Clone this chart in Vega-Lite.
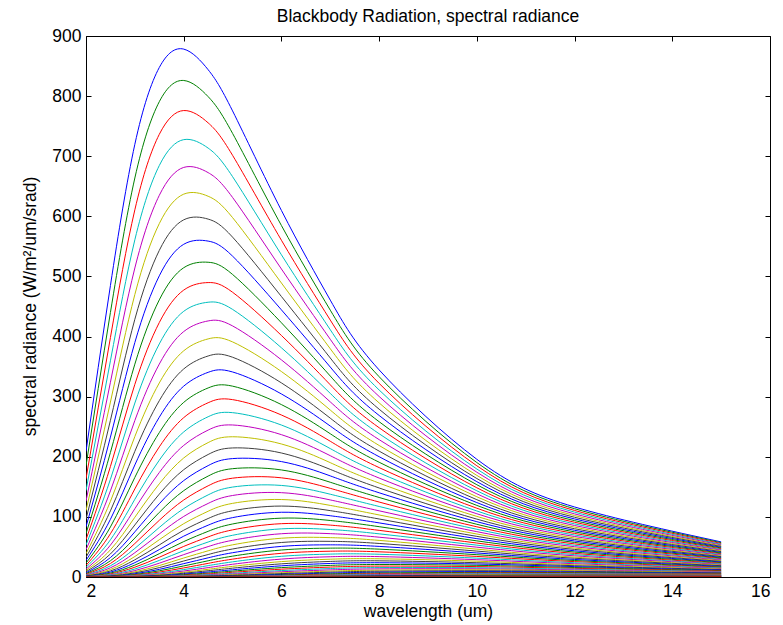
{
"$schema": "https://vega.github.io/schema/vega-lite/v6.json",
"width": 684, "height": 541,
"autosize": {"type": "none"},
"padding": {"left": 86, "top": 36, "right": 13, "bottom": 48},
"background": "white",
"config": {"view": {"stroke": "black", "strokeWidth": 1}, "font": "Liberation Sans",
 "axis": {"grid": false, "labelFont": "Liberation Sans", "labelFontSize": 17.5, "labelColor": "black", "titleFont": "Liberation Sans", "titleFontSize": 17.5, "titleFontWeight": "normal", "titleColor": "black", "tickColor": "black", "tickWidth": 1, "domain": false}},
"title": {"text": "Blackbody Radiation, spectral radiance", "font": "Liberation Sans", "fontSize": 17.5, "fontWeight": "normal", "color": "black", "anchor": "middle", "baseline": "alphabetic", "offset": 5, "dy": 17},
"data": {"values": [
{"c":0,"w":2,"r":209},{"c":0,"w":2.5,"r":484.9},{"c":0,"w":3,"r":719.9},{"c":0,"w":3.5,"r":847.6},{"c":0,"w":4,"r":878.2},{"c":0,"w":4.5,"r":843.9},{"c":0,"w":5,"r":775.4},{"c":0,"w":6,"r":609.8},{"c":0,"w":7,"r":460.6},{"c":0,"w":8,"r":344.5},{"c":0,"w":10,"r":195.8},{"c":0,"w":12,"r":116.5},{"c":0,"w":15,"r":58.4},
{"c":1,"w":2,"r":185.1},{"c":1,"w":2.5,"r":440.1},{"c":1,"w":3,"r":663.8},{"c":1,"w":3.5,"r":790.7},{"c":1,"w":4,"r":826},{"c":1,"w":4.5,"r":799.1},{"c":1,"w":5,"r":738},{"c":1,"w":6,"r":584.7},{"c":1,"w":7,"r":443.9},{"c":1,"w":8,"r":333.2},{"c":1,"w":10,"r":190.4},{"c":1,"w":12,"r":113.6},{"c":1,"w":15,"r":57.1},
{"c":2,"w":2,"r":163.4},{"c":2,"w":2.5,"r":398.4},{"c":2,"w":3,"r":610.9},{"c":2,"w":3.5,"r":736.4},{"c":2,"w":4,"r":776},{"c":2,"w":4.5,"r":755.5},{"c":2,"w":5,"r":701.5},{"c":2,"w":6,"r":560.2},{"c":2,"w":7,"r":427.4},{"c":2,"w":8,"r":322.1},{"c":2,"w":10,"r":185},{"c":2,"w":12,"r":110.7},{"c":2,"w":15,"r":55.8},
{"c":3,"w":2,"r":143.9},{"c":3,"w":2.5,"r":359.7},{"c":3,"w":3,"r":561},{"c":3,"w":3.5,"r":684.5},{"c":3,"w":4,"r":727.6},{"c":3,"w":4.5,"r":713.5},{"c":3,"w":5,"r":666},{"c":3,"w":6,"r":536},{"c":3,"w":7,"r":411.3},{"c":3,"w":8,"r":311.1},{"c":3,"w":10,"r":179.6},{"c":3,"w":12,"r":107.9},{"c":3,"w":15,"r":54.5},
{"c":4,"w":2,"r":126.2},{"c":4,"w":2.5,"r":324},{"c":4,"w":3,"r":514.1},{"c":4,"w":3.5,"r":634.9},{"c":4,"w":4,"r":681.4},{"c":4,"w":4.5,"r":672.7},{"c":4,"w":5,"r":631.4},{"c":4,"w":6,"r":512.4},{"c":4,"w":7,"r":395.4},{"c":4,"w":8,"r":300.3},{"c":4,"w":10,"r":174.3},{"c":4,"w":12,"r":105},{"c":4,"w":15,"r":53.3},
{"c":5,"w":2,"r":110.4},{"c":5,"w":2.5,"r":291},{"c":5,"w":3,"r":470},{"c":5,"w":3.5,"r":587.9},{"c":5,"w":4,"r":636.9},{"c":5,"w":4.5,"r":633.4},{"c":5,"w":5,"r":597.9},{"c":5,"w":6,"r":489.1},{"c":5,"w":7,"r":379.7},{"c":5,"w":8,"r":289.6},{"c":5,"w":10,"r":169},{"c":5,"w":12,"r":102.2},{"c":5,"w":15,"r":52},
{"c":6,"w":2,"r":96.2},{"c":6,"w":2.5,"r":260.6},{"c":6,"w":3,"r":428.8},{"c":6,"w":3.5,"r":543.3},{"c":6,"w":4,"r":594.2},{"c":6,"w":4.5,"r":595.4},{"c":6,"w":5,"r":565.4},{"c":6,"w":6,"r":466.6},{"c":6,"w":7,"r":364.3},{"c":6,"w":8,"r":279.1},{"c":6,"w":10,"r":163.8},{"c":6,"w":12,"r":99.4},{"c":6,"w":15,"r":50.8},
{"c":7,"w":2,"r":83.5},{"c":7,"w":2.5,"r":232.7},{"c":7,"w":3,"r":390.1},{"c":7,"w":3.5,"r":501},{"c":7,"w":4,"r":553.5},{"c":7,"w":4.5,"r":558.8},{"c":7,"w":5,"r":533.8},{"c":7,"w":6,"r":444.4},{"c":7,"w":7,"r":349.2},{"c":7,"w":8,"r":268.7},{"c":7,"w":10,"r":158.6},{"c":7,"w":12,"r":96.6},{"c":7,"w":15,"r":49.5},
{"c":8,"w":2,"r":72.2},{"c":8,"w":2.5,"r":207.2},{"c":8,"w":3,"r":354.1},{"c":8,"w":3.5,"r":461},{"c":8,"w":4,"r":514.5},{"c":8,"w":4.5,"r":523.6},{"c":8,"w":5,"r":503.3},{"c":8,"w":6,"r":422.9},{"c":8,"w":7,"r":334.3},{"c":8,"w":8,"r":258.3},{"c":8,"w":10,"r":153.5},{"c":8,"w":12,"r":93.8},{"c":8,"w":15,"r":48.3},
{"c":9,"w":2,"r":62.2},{"c":9,"w":2.5,"r":183.9},{"c":9,"w":3,"r":320.5},{"c":9,"w":3.5,"r":423.3},{"c":9,"w":4,"r":477.3},{"c":9,"w":4.5,"r":489.8},{"c":9,"w":5,"r":473.7},{"c":9,"w":6,"r":401.8},{"c":9,"w":7,"r":319.7},{"c":9,"w":8,"r":248.3},{"c":9,"w":10,"r":148.4},{"c":9,"w":12,"r":91.1},{"c":9,"w":15,"r":47},
{"c":10,"w":2,"r":53.3},{"c":10,"w":2.5,"r":162.6},{"c":10,"w":3,"r":289.4},{"c":10,"w":3.5,"r":387.7},{"c":10,"w":4,"r":442},{"c":10,"w":4.5,"r":457.1},{"c":10,"w":5,"r":445.2},{"c":10,"w":6,"r":381.3},{"c":10,"w":7,"r":305.4},{"c":10,"w":8,"r":238.3},{"c":10,"w":10,"r":143.4},{"c":10,"w":12,"r":88.4},{"c":10,"w":15,"r":45.8},
{"c":11,"w":2,"r":45.5},{"c":11,"w":2.5,"r":143.3},{"c":11,"w":3,"r":260.4},{"c":11,"w":3.5,"r":354.2},{"c":11,"w":4,"r":408.3},{"c":11,"w":4.5,"r":426},{"c":11,"w":5,"r":417.7},{"c":11,"w":6,"r":361.2},{"c":11,"w":7,"r":291.3},{"c":11,"w":8,"r":228.5},{"c":11,"w":10,"r":138.4},{"c":11,"w":12,"r":85.7},{"c":11,"w":15,"r":44.6},
{"c":12,"w":2,"r":38.7},{"c":12,"w":2.5,"r":125.9},{"c":12,"w":3,"r":233.7},{"c":12,"w":3.5,"r":322.8},{"c":12,"w":4,"r":376.3},{"c":12,"w":4.5,"r":396.1},{"c":12,"w":5,"r":391.1},{"c":12,"w":6,"r":341.8},{"c":12,"w":7,"r":277.7},{"c":12,"w":8,"r":218.8},{"c":12,"w":10,"r":133.5},{"c":12,"w":12,"r":83},{"c":12,"w":15,"r":43.4},
{"c":13,"w":2,"r":32.8},{"c":13,"w":2.5,"r":110.1},{"c":13,"w":3,"r":209.1},{"c":13,"w":3.5,"r":293.3},{"c":13,"w":4,"r":346.1},{"c":13,"w":4.5,"r":367.7},{"c":13,"w":5,"r":365.6},{"c":13,"w":6,"r":322.9},{"c":13,"w":7,"r":264.2},{"c":13,"w":8,"r":209.4},{"c":13,"w":10,"r":128.6},{"c":13,"w":12,"r":80.3},{"c":13,"w":15,"r":42.2},
{"c":14,"w":2,"r":27.6},{"c":14,"w":2.5,"r":96},{"c":14,"w":3,"r":186.4},{"c":14,"w":3.5,"r":265.8},{"c":14,"w":4,"r":317.5},{"c":14,"w":4.5,"r":340.5},{"c":14,"w":5,"r":341.1},{"c":14,"w":6,"r":304.5},{"c":14,"w":7,"r":251.1},{"c":14,"w":8,"r":200.1},{"c":14,"w":10,"r":123.8},{"c":14,"w":12,"r":77.7},{"c":14,"w":15,"r":40.9},
{"c":15,"w":2,"r":23.1},{"c":15,"w":2.5,"r":83.3},{"c":15,"w":3,"r":165.7},{"c":15,"w":3.5,"r":240.2},{"c":15,"w":4,"r":290.5},{"c":15,"w":4.5,"r":314.5},{"c":15,"w":5,"r":317.5},{"c":15,"w":6,"r":286.8},{"c":15,"w":7,"r":238.3},{"c":15,"w":8,"r":190.9},{"c":15,"w":10,"r":119.1},{"c":15,"w":12,"r":75.1},{"c":15,"w":15,"r":39.8},
{"c":16,"w":2,"r":19.3},{"c":16,"w":2.5,"r":72},{"c":16,"w":3,"r":146.6},{"c":16,"w":3.5,"r":216.4},{"c":16,"w":4,"r":265.1},{"c":16,"w":4.5,"r":289.9},{"c":16,"w":5,"r":295.1},{"c":16,"w":6,"r":269.5},{"c":16,"w":7,"r":225.8},{"c":16,"w":8,"r":182},{"c":16,"w":10,"r":114.4},{"c":16,"w":12,"r":72.5},{"c":16,"w":15,"r":38.6},
{"c":17,"w":2,"r":16},{"c":17,"w":2.5,"r":61.9},{"c":17,"w":3,"r":129.3},{"c":17,"w":3.5,"r":194.3},{"c":17,"w":4,"r":241.3},{"c":17,"w":4.5,"r":266.6},{"c":17,"w":5,"r":273.4},{"c":17,"w":6,"r":252.8},{"c":17,"w":7,"r":213.6},{"c":17,"w":8,"r":173.3},{"c":17,"w":10,"r":109.8},{"c":17,"w":12,"r":69.9},{"c":17,"w":15,"r":37.4},
{"c":18,"w":2,"r":13.1},{"c":18,"w":2.5,"r":53},{"c":18,"w":3,"r":113.6},{"c":18,"w":3.5,"r":173.8},{"c":18,"w":4,"r":218.9},{"c":18,"w":4.5,"r":244.4},{"c":18,"w":5,"r":252.9},{"c":18,"w":6,"r":236.8},{"c":18,"w":7,"r":201.8},{"c":18,"w":8,"r":164.6},{"c":18,"w":10,"r":105.2},{"c":18,"w":12,"r":67.4},{"c":18,"w":15,"r":36.2},
{"c":19,"w":2,"r":10.8},{"c":19,"w":2.5,"r":45.2},{"c":19,"w":3,"r":99.4},{"c":19,"w":3.5,"r":155},{"c":19,"w":4,"r":198},{"c":19,"w":4.5,"r":223.6},{"c":19,"w":5,"r":233.3},{"c":19,"w":6,"r":221.3},{"c":19,"w":7,"r":190.2},{"c":19,"w":8,"r":156.2},{"c":19,"w":10,"r":100.8},{"c":19,"w":12,"r":64.9},{"c":19,"w":15,"r":35},
{"c":20,"w":2,"r":8.74},{"c":20,"w":2.5,"r":38.3},{"c":20,"w":3,"r":86.6},{"c":20,"w":3.5,"r":137.8},{"c":20,"w":4,"r":178.5},{"c":20,"w":4.5,"r":203.8},{"c":20,"w":5,"r":214.7},{"c":20,"w":6,"r":206.3},{"c":20,"w":7,"r":179},{"c":20,"w":8,"r":148.1},{"c":20,"w":10,"r":96.3},{"c":20,"w":12,"r":62.4},{"c":20,"w":15,"r":33.9},
{"c":21,"w":2,"r":7.06},{"c":21,"w":2.5,"r":32.3},{"c":21,"w":3,"r":75.1},{"c":21,"w":3.5,"r":121.9},{"c":21,"w":4,"r":160.4},{"c":21,"w":4.5,"r":185.3},{"c":21,"w":5,"r":197},{"c":21,"w":6,"r":192},{"c":21,"w":7,"r":168.2},{"c":21,"w":8,"r":140.1},{"c":21,"w":10,"r":92},{"c":21,"w":12,"r":59.9},{"c":21,"w":15,"r":32.7},
{"c":22,"w":2,"r":5.66},{"c":22,"w":2.5,"r":27},{"c":22,"w":3,"r":64.8},{"c":22,"w":3.5,"r":107.5},{"c":22,"w":4,"r":143.6},{"c":22,"w":4.5,"r":167.9},{"c":22,"w":5,"r":180.2},{"c":22,"w":6,"r":178.1},{"c":22,"w":7,"r":157.6},{"c":22,"w":8,"r":132.3},{"c":22,"w":10,"r":87.7},{"c":22,"w":12,"r":57.5},{"c":22,"w":15,"r":31.6},
{"c":23,"w":2,"r":4.5},{"c":23,"w":2.5,"r":22.5},{"c":23,"w":3,"r":55.7},{"c":23,"w":3.5,"r":94.3},{"c":23,"w":4,"r":128.1},{"c":23,"w":4.5,"r":151.7},{"c":23,"w":5,"r":164.4},{"c":23,"w":6,"r":165},{"c":23,"w":7,"r":147.5},{"c":23,"w":8,"r":124.7},{"c":23,"w":10,"r":83.5},{"c":23,"w":12,"r":55.1},{"c":23,"w":15,"r":30.5},
{"c":24,"w":2,"r":3.56},{"c":24,"w":2.5,"r":18.6},{"c":24,"w":3,"r":47.6},{"c":24,"w":3.5,"r":82.4},{"c":24,"w":4,"r":113.8},{"c":24,"w":4.5,"r":136.6},{"c":24,"w":5,"r":149.6},{"c":24,"w":6,"r":152.3},{"c":24,"w":7,"r":137.7},{"c":24,"w":8,"r":117.3},{"c":24,"w":10,"r":79.4},{"c":24,"w":12,"r":52.7},{"c":24,"w":15,"r":29.3},
{"c":25,"w":2,"r":2.79},{"c":25,"w":2.5,"r":15.3},{"c":25,"w":3,"r":40.4},{"c":25,"w":3.5,"r":71.6},{"c":25,"w":4,"r":100.7},{"c":25,"w":4.5,"r":122.4},{"c":25,"w":5,"r":135.6},{"c":25,"w":6,"r":140.3},{"c":25,"w":7,"r":128.2},{"c":25,"w":8,"r":110.1},{"c":25,"w":10,"r":75.4},{"c":25,"w":12,"r":50.4},{"c":25,"w":15,"r":28.2},
{"c":26,"w":2,"r":2.16},{"c":26,"w":2.5,"r":12.5},{"c":26,"w":3,"r":34.1},{"c":26,"w":3.5,"r":62},{"c":26,"w":4,"r":88.7},{"c":26,"w":4.5,"r":109.4},{"c":26,"w":5,"r":122.5},{"c":26,"w":6,"r":128.9},{"c":26,"w":7,"r":119.1},{"c":26,"w":8,"r":103.2},{"c":26,"w":10,"r":71.5},{"c":26,"w":12,"r":48.1},{"c":26,"w":15,"r":27.1},
{"c":27,"w":2,"r":1.66},{"c":27,"w":2.5,"r":10.1},{"c":27,"w":3,"r":28.6},{"c":27,"w":3.5,"r":53.3},{"c":27,"w":4,"r":77.8},{"c":27,"w":4.5,"r":97.3},{"c":27,"w":5,"r":110.2},{"c":27,"w":6,"r":118},{"c":27,"w":7,"r":110.4},{"c":27,"w":8,"r":96.5},{"c":27,"w":10,"r":67.6},{"c":27,"w":12,"r":45.9},{"c":27,"w":15,"r":26},
{"c":28,"w":2,"r":1.27},{"c":28,"w":2.5,"r":8.16},{"c":28,"w":3,"r":23.9},{"c":28,"w":3.5,"r":45.6},{"c":28,"w":4,"r":67.9},{"c":28,"w":4.5,"r":86.2},{"c":28,"w":5,"r":98.8},{"c":28,"w":6,"r":107.7},{"c":28,"w":7,"r":101.9},{"c":28,"w":8,"r":90},{"c":28,"w":10,"r":63.8},{"c":28,"w":12,"r":43.6},{"c":28,"w":15,"r":25},
{"c":29,"w":2,"r":0.95},{"c":29,"w":2.5,"r":6.51},{"c":29,"w":3,"r":19.8},{"c":29,"w":3.5,"r":38.8},{"c":29,"w":4,"r":58.9},{"c":29,"w":4.5,"r":76},{"c":29,"w":5,"r":88.2},{"c":29,"w":6,"r":97.9},{"c":29,"w":7,"r":94},{"c":29,"w":8,"r":83.7},{"c":29,"w":10,"r":60.1},{"c":29,"w":12,"r":41.5},{"c":29,"w":15,"r":23.9},
{"c":30,"w":2,"r":0.71},{"c":30,"w":2.5,"r":5.14},{"c":30,"w":3,"r":16.3},{"c":30,"w":3.5,"r":32.8},{"c":30,"w":4,"r":50.9},{"c":30,"w":4.5,"r":66.7},{"c":30,"w":5,"r":78.4},{"c":30,"w":6,"r":88.7},{"c":30,"w":7,"r":86.3},{"c":30,"w":8,"r":77.6},{"c":30,"w":10,"r":56.5},{"c":30,"w":12,"r":39.3},{"c":30,"w":15,"r":22.8},
{"c":31,"w":2,"r":0.52},{"c":31,"w":2.5,"r":4.03},{"c":31,"w":3,"r":13.3},{"c":31,"w":3.5,"r":27.6},{"c":31,"w":4,"r":43.7},{"c":31,"w":4.5,"r":58.2},{"c":31,"w":5,"r":69.4},{"c":31,"w":6,"r":80.1},{"c":31,"w":7,"r":79},{"c":31,"w":8,"r":71.8},{"c":31,"w":10,"r":53},{"c":31,"w":12,"r":37.2},{"c":31,"w":15,"r":21.8},
{"c":32,"w":2,"r":0.38},{"c":32,"w":2.5,"r":3.12},{"c":32,"w":3,"r":10.7},{"c":32,"w":3.5,"r":23},{"c":32,"w":4,"r":37.2},{"c":32,"w":4.5,"r":50.6},{"c":32,"w":5,"r":61.1},{"c":32,"w":6,"r":72},{"c":32,"w":7,"r":72.1},{"c":32,"w":8,"r":66.2},{"c":32,"w":10,"r":49.6},{"c":32,"w":12,"r":35.2},{"c":32,"w":15,"r":20.8},
{"c":33,"w":2,"r":0.27},{"c":33,"w":2.5,"r":2.4},{"c":33,"w":3,"r":8.61},{"c":33,"w":3.5,"r":19},{"c":33,"w":4,"r":31.6},{"c":33,"w":4.5,"r":43.6},{"c":33,"w":5,"r":53.5},{"c":33,"w":6,"r":64.5},{"c":33,"w":7,"r":65.5},{"c":33,"w":8,"r":60.9},{"c":33,"w":10,"r":46.3},{"c":33,"w":12,"r":33.1},{"c":33,"w":15,"r":19.8},
{"c":34,"w":2,"r":0.19},{"c":34,"w":2.5,"r":1.82},{"c":34,"w":3,"r":6.84},{"c":34,"w":3.5,"r":15.6},{"c":34,"w":4,"r":26.6},{"c":34,"w":4.5,"r":37.4},{"c":34,"w":5,"r":46.6},{"c":34,"w":6,"r":57.4},{"c":34,"w":7,"r":59.3},{"c":34,"w":8,"r":55.8},{"c":34,"w":10,"r":43.1},{"c":34,"w":12,"r":31.2},{"c":34,"w":15,"r":18.8},
{"c":35,"w":2,"r":0.14},{"c":35,"w":2.5,"r":1.37},{"c":35,"w":3,"r":5.39},{"c":35,"w":3.5,"r":12.7},{"c":35,"w":4,"r":22.2},{"c":35,"w":4.5,"r":31.9},{"c":35,"w":5,"r":40.4},{"c":35,"w":6,"r":50.9},{"c":35,"w":7,"r":53.5},{"c":35,"w":8,"r":50.9},{"c":35,"w":10,"r":40},{"c":35,"w":12,"r":29.2},{"c":35,"w":15,"r":17.8},
{"c":36,"w":2,"r":0.09},{"c":36,"w":2.5,"r":1.01},{"c":36,"w":3,"r":4.19},{"c":36,"w":3.5,"r":10.3},{"c":36,"w":4,"r":18.4},{"c":36,"w":4.5,"r":27},{"c":36,"w":5,"r":34.7},{"c":36,"w":6,"r":44.9},{"c":36,"w":7,"r":48},{"c":36,"w":8,"r":46.3},{"c":36,"w":10,"r":37.1},{"c":36,"w":12,"r":27.4},{"c":36,"w":15,"r":16.8},
{"c":37,"w":2,"r":0.06},{"c":37,"w":2.5,"r":0.74},{"c":37,"w":3,"r":3.23},{"c":37,"w":3.5,"r":8.21},{"c":37,"w":4,"r":15.1},{"c":37,"w":4.5,"r":22.7},{"c":37,"w":5,"r":29.7},{"c":37,"w":6,"r":39.4},{"c":37,"w":7,"r":42.9},{"c":37,"w":8,"r":41.9},{"c":37,"w":10,"r":34.2},{"c":37,"w":12,"r":25.6},{"c":37,"w":15,"r":15.9},
{"c":38,"w":2,"r":0.04},{"c":38,"w":2.5,"r":0.53},{"c":38,"w":3,"r":2.46},{"c":38,"w":3.5,"r":6.5},{"c":38,"w":4,"r":12.3},{"c":38,"w":4.5,"r":18.9},{"c":38,"w":5,"r":25.2},{"c":38,"w":6,"r":34.4},{"c":38,"w":7,"r":38.1},{"c":38,"w":8,"r":37.8},{"c":38,"w":10,"r":31.4},{"c":38,"w":12,"r":23.8},{"c":38,"w":15,"r":15},
{"c":39,"w":2,"r":0.03},{"c":39,"w":2.5,"r":0.38},{"c":39,"w":3,"r":1.85},{"c":39,"w":3.5,"r":5.09},{"c":39,"w":4,"r":9.95},{"c":39,"w":4.5,"r":15.6},{"c":39,"w":5,"r":21.2},{"c":39,"w":6,"r":29.8},{"c":39,"w":7,"r":33.7},{"c":39,"w":8,"r":33.9},{"c":39,"w":10,"r":28.8},{"c":39,"w":12,"r":22.1},{"c":39,"w":15,"r":14.1},
{"c":40,"w":2,"r":0.02},{"c":40,"w":2.5,"r":0.26},{"c":40,"w":3,"r":1.37},{"c":40,"w":3.5,"r":3.93},{"c":40,"w":4,"r":7.94},{"c":40,"w":4.5,"r":12.8},{"c":40,"w":5,"r":17.7},{"c":40,"w":6,"r":25.6},{"c":40,"w":7,"r":29.6},{"c":40,"w":8,"r":30.3},{"c":40,"w":10,"r":26.3},{"c":40,"w":12,"r":20.4},{"c":40,"w":15,"r":13.2},
{"c":41,"w":2,"r":0.01},{"c":41,"w":2.5,"r":0.18},{"c":41,"w":3,"r":1},{"c":41,"w":3.5,"r":3},{"c":41,"w":4,"r":6.27},{"c":41,"w":4.5,"r":10.4},{"c":41,"w":5,"r":14.7},{"c":41,"w":6,"r":21.9},{"c":41,"w":7,"r":25.9},{"c":41,"w":8,"r":26.9},{"c":41,"w":10,"r":23.8},{"c":41,"w":12,"r":18.8},{"c":41,"w":15,"r":12.3},
{"c":42,"w":2,"r":0.01},{"c":42,"w":2.5,"r":0.12},{"c":42,"w":3,"r":0.72},{"c":42,"w":3.5,"r":2.26},{"c":42,"w":4,"r":4.9},{"c":42,"w":4.5,"r":8.32},{"c":42,"w":5,"r":12},{"c":42,"w":6,"r":18.6},{"c":42,"w":7,"r":22.5},{"c":42,"w":8,"r":23.7},{"c":42,"w":10,"r":21.6},{"c":42,"w":12,"r":17.3},{"c":42,"w":15,"r":11.5},
{"c":43,"w":2,"r":0},{"c":43,"w":2.5,"r":0.08},{"c":43,"w":3,"r":0.51},{"c":43,"w":3.5,"r":1.68},{"c":43,"w":4,"r":3.77},{"c":43,"w":4.5,"r":6.6},{"c":43,"w":5,"r":9.77},{"c":43,"w":6,"r":15.6},{"c":43,"w":7,"r":19.3},{"c":43,"w":8,"r":20.8},{"c":43,"w":10,"r":19.4},{"c":43,"w":12,"r":15.8},{"c":43,"w":15,"r":10.6},
{"c":44,"w":2,"r":0},{"c":44,"w":2.5,"r":0.05},{"c":44,"w":3,"r":0.35},{"c":44,"w":3.5,"r":1.23},{"c":44,"w":4,"r":2.87},{"c":44,"w":4.5,"r":5.17},{"c":44,"w":5,"r":7.85},{"c":44,"w":6,"r":13},{"c":44,"w":7,"r":16.5},{"c":44,"w":8,"r":18.1},{"c":44,"w":10,"r":17.3},{"c":44,"w":12,"r":14.4},{"c":44,"w":15,"r":9.84},
{"c":45,"w":2,"r":0},{"c":45,"w":2.5,"r":0.03},{"c":45,"w":3,"r":0.24},{"c":45,"w":3.5,"r":0.88},{"c":45,"w":4,"r":2.15},{"c":45,"w":4.5,"r":4},{"c":45,"w":5,"r":6.22},{"c":45,"w":6,"r":10.7},{"c":45,"w":7,"r":14},{"c":45,"w":8,"r":15.7},{"c":45,"w":10,"r":15.4},{"c":45,"w":12,"r":13},{"c":45,"w":15,"r":9.07},
{"c":46,"w":2,"r":0},{"c":46,"w":2.5,"r":0.02},{"c":46,"w":3,"r":0.16},{"c":46,"w":3.5,"r":0.62},{"c":46,"w":4,"r":1.58},{"c":46,"w":4.5,"r":3.05},{"c":46,"w":5,"r":4.87},{"c":46,"w":6,"r":8.73},{"c":46,"w":7,"r":11.8},{"c":46,"w":8,"r":13.5},{"c":46,"w":10,"r":13.6},{"c":46,"w":12,"r":11.7},{"c":46,"w":15,"r":8.32},
{"c":47,"w":2,"r":0},{"c":47,"w":2.5,"r":0.01},{"c":47,"w":3,"r":0.1},{"c":47,"w":3.5,"r":0.43},{"c":47,"w":4,"r":1.15},{"c":47,"w":4.5,"r":2.29},{"c":47,"w":5,"r":3.76},{"c":47,"w":6,"r":7.04},{"c":47,"w":7,"r":9.77},{"c":47,"w":8,"r":11.4},{"c":47,"w":10,"r":12},{"c":47,"w":12,"r":10.5},{"c":47,"w":15,"r":7.6},
{"c":48,"w":2,"r":0},{"c":48,"w":2.5,"r":0},{"c":48,"w":3,"r":0.07},{"c":48,"w":3.5,"r":0.29},{"c":48,"w":4,"r":0.81},{"c":48,"w":4.5,"r":1.69},{"c":48,"w":5,"r":2.86},{"c":48,"w":6,"r":5.6},{"c":48,"w":7,"r":8.03},{"c":48,"w":8,"r":9.64},{"c":48,"w":10,"r":10.4},{"c":48,"w":12,"r":9.33},{"c":48,"w":15,"r":6.91},
{"c":49,"w":2,"r":0},{"c":49,"w":2.5,"r":0},{"c":49,"w":3,"r":0.04},{"c":49,"w":3.5,"r":0.19},{"c":49,"w":4,"r":0.57},{"c":49,"w":4.5,"r":1.22},{"c":49,"w":5,"r":2.14},{"c":49,"w":6,"r":4.39},{"c":49,"w":7,"r":6.53},{"c":49,"w":8,"r":8.03},{"c":49,"w":10,"r":8.99},{"c":49,"w":12,"r":8.25},{"c":49,"w":15,"r":6.25},
{"c":50,"w":2,"r":0},{"c":50,"w":2.5,"r":0},{"c":50,"w":3,"r":0.02},{"c":50,"w":3.5,"r":0.12},{"c":50,"w":4,"r":0.38},{"c":50,"w":4.5,"r":0.87},{"c":50,"w":5,"r":1.57},{"c":50,"w":6,"r":3.4},{"c":50,"w":7,"r":5.23},{"c":50,"w":8,"r":6.62},{"c":50,"w":10,"r":7.7},{"c":50,"w":12,"r":7.24},{"c":50,"w":15,"r":5.61},
{"c":51,"w":2,"r":0},{"c":51,"w":2.5,"r":0},{"c":51,"w":3,"r":0.01},{"c":51,"w":3.5,"r":0.08},{"c":51,"w":4,"r":0.26},{"c":51,"w":4.5,"r":0.6},{"c":51,"w":5,"r":1.13},{"c":51,"w":6,"r":2.58},{"c":51,"w":7,"r":4.13},{"c":51,"w":8,"r":5.38},{"c":51,"w":10,"r":6.52},{"c":51,"w":12,"r":6.3},{"c":51,"w":15,"r":5.01},
{"c":52,"w":2,"r":0},{"c":52,"w":2.5,"r":0},{"c":52,"w":3,"r":0},{"c":52,"w":3.5,"r":0.05},{"c":52,"w":4,"r":0.16},{"c":52,"w":4.5,"r":0.41},{"c":52,"w":5,"r":0.8},{"c":52,"w":6,"r":1.93},{"c":52,"w":7,"r":3.22},{"c":52,"w":8,"r":4.32},{"c":52,"w":10,"r":5.47},{"c":52,"w":12,"r":5.43},{"c":52,"w":15,"r":4.44},
{"c":53,"w":2,"r":0},{"c":53,"w":2.5,"r":0},{"c":53,"w":3,"r":0},{"c":53,"w":3.5,"r":0.03},{"c":53,"w":4,"r":0.1},{"c":53,"w":4.5,"r":0.27},{"c":53,"w":5,"r":0.55},{"c":53,"w":6,"r":1.41},{"c":53,"w":7,"r":2.46},{"c":53,"w":8,"r":3.42},{"c":53,"w":10,"r":4.53},{"c":53,"w":12,"r":4.63},{"c":53,"w":15,"r":3.9},
{"c":54,"w":2,"r":0},{"c":54,"w":2.5,"r":0},{"c":54,"w":3,"r":0},{"c":54,"w":3.5,"r":0.01},{"c":54,"w":4,"r":0.06},{"c":54,"w":4.5,"r":0.17},{"c":54,"w":5,"r":0.37},{"c":54,"w":6,"r":1.01},{"c":54,"w":7,"r":1.84},{"c":54,"w":8,"r":2.65},{"c":54,"w":10,"r":3.7},{"c":54,"w":12,"r":3.91},{"c":54,"w":15,"r":3.4},
{"c":55,"w":2,"r":0},{"c":55,"w":2.5,"r":0},{"c":55,"w":3,"r":0},{"c":55,"w":3.5,"r":0},{"c":55,"w":4,"r":0.04},{"c":55,"w":4.5,"r":0.11},{"c":55,"w":5,"r":0.24},{"c":55,"w":6,"r":0.7},{"c":55,"w":7,"r":1.35},{"c":55,"w":8,"r":2.02},{"c":55,"w":10,"r":2.97},{"c":55,"w":12,"r":3.26},{"c":55,"w":15,"r":2.94},
{"c":56,"w":2,"r":0},{"c":56,"w":2.5,"r":0},{"c":56,"w":3,"r":0},{"c":56,"w":3.5,"r":0},{"c":56,"w":4,"r":0.02},{"c":56,"w":4.5,"r":0.06},{"c":56,"w":5,"r":0.15},{"c":56,"w":6,"r":0.48},{"c":56,"w":7,"r":0.97},{"c":56,"w":8,"r":1.51},{"c":56,"w":10,"r":2.35},{"c":56,"w":12,"r":2.68},{"c":56,"w":15,"r":2.51},
{"c":57,"w":2,"r":0},{"c":57,"w":2.5,"r":0},{"c":57,"w":3,"r":0},{"c":57,"w":3.5,"r":0},{"c":57,"w":4,"r":0.01},{"c":57,"w":4.5,"r":0.04},{"c":57,"w":5,"r":0.09},{"c":57,"w":6,"r":0.31},{"c":57,"w":7,"r":0.68},{"c":57,"w":8,"r":1.1},{"c":57,"w":10,"r":1.83},{"c":57,"w":12,"r":2.17},{"c":57,"w":15,"r":2.11},
{"c":58,"w":2,"r":0},{"c":58,"w":2.5,"r":0},{"c":58,"w":3,"r":0},{"c":58,"w":3.5,"r":0},{"c":58,"w":4,"r":0},{"c":58,"w":4.5,"r":0.02},{"c":58,"w":5,"r":0.05},{"c":58,"w":6,"r":0.2},{"c":58,"w":7,"r":0.46},{"c":58,"w":8,"r":0.78},{"c":58,"w":10,"r":1.39},{"c":58,"w":12,"r":1.73},{"c":58,"w":15,"r":1.76},
{"c":59,"w":2,"r":0},{"c":59,"w":2.5,"r":0},{"c":59,"w":3,"r":0},{"c":59,"w":3.5,"r":0},{"c":59,"w":4,"r":0},{"c":59,"w":4.5,"r":0.01},{"c":59,"w":5,"r":0.03},{"c":59,"w":6,"r":0.12},{"c":59,"w":7,"r":0.3},{"c":59,"w":8,"r":0.54},{"c":59,"w":10,"r":1.03},{"c":59,"w":12,"r":1.35},{"c":59,"w":15,"r":1.44},
{"c":60,"w":2,"r":0},{"c":60,"w":2.5,"r":0},{"c":60,"w":3,"r":0},{"c":60,"w":3.5,"r":0},{"c":60,"w":4,"r":0},{"c":60,"w":4.5,"r":0},{"c":60,"w":5,"r":0.02},{"c":60,"w":6,"r":0.07},{"c":60,"w":7,"r":0.19},{"c":60,"w":8,"r":0.36},{"c":60,"w":10,"r":0.74},{"c":60,"w":12,"r":1.03},{"c":60,"w":15,"r":1.16},
{"c":61,"w":2,"r":0},{"c":61,"w":2.5,"r":0},{"c":61,"w":3,"r":0},{"c":61,"w":3.5,"r":0},{"c":61,"w":4,"r":0},{"c":61,"w":4.5,"r":0},{"c":61,"w":5,"r":0.01},{"c":61,"w":6,"r":0.04},{"c":61,"w":7,"r":0.11},{"c":61,"w":8,"r":0.23},{"c":61,"w":10,"r":0.52},{"c":61,"w":12,"r":0.76},{"c":61,"w":15,"r":0.91},
{"c":62,"w":2,"r":0},{"c":62,"w":2.5,"r":0},{"c":62,"w":3,"r":0},{"c":62,"w":3.5,"r":0},{"c":62,"w":4,"r":0},{"c":62,"w":4.5,"r":0},{"c":62,"w":5,"r":0},{"c":62,"w":6,"r":0.02},{"c":62,"w":7,"r":0.06},{"c":62,"w":8,"r":0.14},{"c":62,"w":10,"r":0.35},{"c":62,"w":12,"r":0.55},{"c":62,"w":15,"r":0.7},
{"c":63,"w":2,"r":0},{"c":63,"w":2.5,"r":0},{"c":63,"w":3,"r":0},{"c":63,"w":3.5,"r":0},{"c":63,"w":4,"r":0},{"c":63,"w":4.5,"r":0},{"c":63,"w":5,"r":0},{"c":63,"w":6,"r":0.01},{"c":63,"w":7,"r":0.03},{"c":63,"w":8,"r":0.08},{"c":63,"w":10,"r":0.23},{"c":63,"w":12,"r":0.38},{"c":63,"w":15,"r":0.52},
{"c":64,"w":2,"r":0},{"c":64,"w":2.5,"r":0},{"c":64,"w":3,"r":0},{"c":64,"w":3.5,"r":0},{"c":64,"w":4,"r":0},{"c":64,"w":4.5,"r":0},{"c":64,"w":5,"r":0},{"c":64,"w":6,"r":0},{"c":64,"w":7,"r":0.02},{"c":64,"w":8,"r":0.04},{"c":64,"w":10,"r":0.14},{"c":64,"w":12,"r":0.25},{"c":64,"w":15,"r":0.38},
{"c":65,"w":2,"r":0},{"c":65,"w":2.5,"r":0},{"c":65,"w":3,"r":0},{"c":65,"w":3.5,"r":0},{"c":65,"w":4,"r":0},{"c":65,"w":4.5,"r":0},{"c":65,"w":5,"r":0},{"c":65,"w":6,"r":0},{"c":65,"w":7,"r":0.01},{"c":65,"w":8,"r":0.02},{"c":65,"w":10,"r":0.08},{"c":65,"w":12,"r":0.16},{"c":65,"w":15,"r":0.26}
]},
"layer": [
 {"mark": {"type": "line", "interpolate": "natural", "strokeWidth": 1, "clip": true},
  "encoding": {
   "x": {"field": "w", "type": "quantitative", "scale": {"domain": [2, 16], "nice": false, "zero": false},
    "axis": {"orient": "bottom", "values": [2,4,6,8,10,12,14,16], "offset": -5, "tickSize": 5, "labelPadding": 5, "title": "wavelength (um)", "titleX": 342, "titleY": 44, "titleBaseline": "alphabetic", "titleAnchor": "middle"}},
   "y": {"field": "r", "type": "quantitative", "scale": {"domain": [0, 900], "nice": false},
    "axis": {"orient": "left", "values": [0,100,200,300,400,500,600,700,800,900], "offset": -5, "tickSize": 5, "labelPadding": 5, "title": "spectral radiance (W/m²/um/srad)", "titleX": -56, "titleY": 270, "titleAngle": 270, "titleAlign": "center", "titleBaseline": "alphabetic"}},
   "color": {"field": "c", "type": "nominal", "legend": null,
    "scale": {"domain": [0,1,2,3,4,5,6,7,8,9,10,11,12,13,14,15,16,17,18,19,20,21,22,23,24,25,26,27,28,29,30,31,32,33,34,35,36,37,38,39,40,41,42,43,44,45,46,47,48,49,50,51,52,53,54,55,56,57,58,59,60,61,62,63,64,65],
     "range": ["#0000ff","#008000","#ff0000","#00bfbf","#bf00bf","#bfbf00","#404040"]}}
  }},
 {"mark": {"type": "point", "opacity": 0},
  "encoding": {
   "x": {"field": "w", "type": "quantitative", "axis": {"orient": "top", "values": [2,4,6,8,10,12,14,16], "offset": -5, "tickSize": 5, "labels": false, "title": null}},
   "y": {"field": "r", "type": "quantitative", "axis": {"orient": "right", "values": [0,100,200,300,400,500,600,700,800,900], "offset": -5, "tickSize": 5, "labels": false, "title": null}}
  }}
],
"resolve": {"axis": {"x": "independent", "y": "independent"}}
}
